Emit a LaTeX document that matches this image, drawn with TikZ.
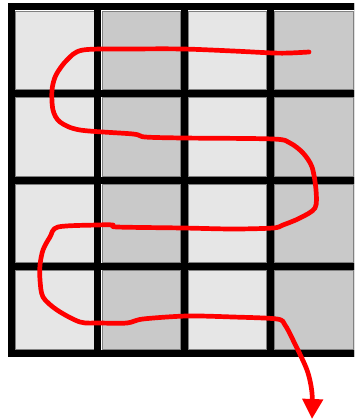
\documentclass[tikz,border=0pt]{standalone}
\usetikzlibrary{arrows.meta}
\definecolor{celllight}{HTML}{E6E6E6}
\definecolor{celldark}{HTML}{C9C9C9}
\definecolor{cellrim}{HTML}{808080}
\definecolor{pathred}{HTML}{FF0000}
\tikzset{
  cellA/.style={fill=celllight, draw=cellrim, line width=0.8pt},
  cellB/.style={fill=celldark, draw=cellrim, line width=0.8pt},
  gridline/.style={draw=black, line width=7pt, line cap=rect},
  redpath/.style={draw=pathred, line width=4.7pt, line cap=round, line join=round}
}
\begin{document}
\begin{tikzpicture}[x=1pt,y=-1pt]
\useasboundingbox (0,0) rectangle (354,420);
\clip (0,0) rectangle (354,420);
\fill[white] (0,0) rectangle (354,420);
% cells
\foreach \i in {0,1,2,3}{
  \foreach \j in {0,1,2,3}{
    \pgfmathsetmacro{\xa}{11.5+86.4*\i}
    \pgfmathsetmacro{\ya}{7+86.5*\j}
    \pgfmathsetmacro{\xb}{\xa+86.4}
    \pgfmathsetmacro{\yb}{\ya+86.5}
    \ifodd\i
      \path[cellB] (\xa+4,\ya+4) rectangle (\xb-4,\yb-4);
    \else
      \path[cellA] (\xa+4,\ya+4) rectangle (\xb-4,\yb-4);
    \fi
  }
}
% grid lines
\foreach \i in {0,1,2,3,4}{
  \pgfmathsetmacro{\xx}{11.5+86.4*\i}
  \path[gridline] (\xx,7) -- (\xx,353);
  \pgfmathsetmacro{\yy}{7+86.5*\i}
  \path[gridline] (11.5,\yy) -- (357,\yy);
}
% red snake path
\path[redpath, -{Triangle[width=20pt,length=20pt]}] plot[smooth, tension=0.5] coordinates {
(309,52) (290,53) (273,53) (233,51) (183,49) (133,49) (83,50) (67,60) (56,75) (52,90)
(53,110) (60,122) (80,130) (133,134) (145,137) (183,138) (273,139) (290,143) (303,153)
(312,167) (316,190) (315,208) (300,218) (283,225) (273,228) (233,229) (183,228) (117,227)
(113,225) (97,225) (58,227) (50,237) (43,250) (40,265) (40,280) (43,297) (57,310) (80,322)
(100,323) (127,323) (143,319) (187,316) (233,317) (277,319) (285,325) (293,340) (307,370)
(312,393) (312,419)};
\end{tikzpicture}
\end{document}
